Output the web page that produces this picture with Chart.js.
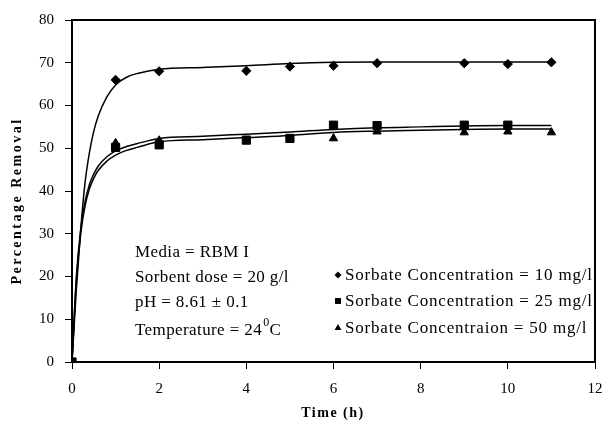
<!DOCTYPE html>
<html>
<head>
<meta charset="utf-8">
<script src="https://cdn.jsdelivr.net/npm/chart.js@4.4.0/dist/chart.umd.min.js"></script>
<style>
  html, body { margin: 0; padding: 0; background: #fff; }
  #wrap { width: 607px; height: 430px; }
</style>
</head>
<body>
<div id="wrap"><canvas id="myChart" width="607" height="430"></canvas></div>
<script>
// measured points
var labels = ['Sorbate Concentration = 10 mg/l', 'Sorbate Concentration = 25 mg/l', 'Sorbate Concentraion = 50 mg/l'];
var t10 = [0, 1, 2, 4, 5, 6, 7, 9, 10, 11];
var c10 = [0, 66, 68, 68.1, 69.1, 69.3, 69.9, 69.9, 69.7, 70.1];
var t25 = [0, 1, 2, 4, 5, 6, 7, 9, 10];
var c25 = [0, 50.2, 50.8, 51.9, 52.3, 55.4, 55.3, 55.4, 55.4];
var t50 = [0, 1, 2, 6, 7, 9, 10, 11];
var c50 = [0, 51.2, 51.8, 52.3, 53.9, 53.7, 53.9, 53.7];

// fitted curves
var tFit = [0, 0.1, 0.2, 0.3, 0.4, 0.5, 0.6, 0.8, 1, 1.25, 1.5, 2, 3, 4, 5, 6, 7, 8, 9, 10, 11];
var fit10 = [0, 17, 31, 42, 49, 54, 57.5, 62, 64.8, 66.6, 67.5, 68.5, 68.9, 69.3, 69.8, 70.1, 70.2, 70.2, 70.2, 70.2, 70.2];
var fit25 = [0, 20, 31, 37.5, 41.5, 44, 45.8, 48, 49.4, 50.4, 51.1, 52.3, 52.8, 53.3, 53.8, 54.4, 54.8, 55, 55.2, 55.3, 55.3];
var fit50 = [0, 19, 30, 36.5, 40.5, 43, 44.8, 47, 48.4, 49.5, 50.2, 51.5, 52, 52.5, 53, 53.7, 54, 54.2, 54.4, 54.5, 54.5];

var notes = ['Media = RBM I', 'Sorbent dose = 20 g/l', 'pH = 8.61 \u00b1 0.1', 'Temperature = 24'];
var xTitle = 'Time (h)';
var yTitle = 'Percentage Removal';

function pts(xs, ys) {
    return xs.map(function (x, i) { return { x: x, y: ys[i] }; });
}

var serif = '"Liberation Serif", "Times New Roman", serif';

function fitLine(data) {
    return {
        data: pts(tFit, data), showLine: true, pointRadius: 0, borderColor: '#000',
        borderWidth: 1.5, cubicInterpolationMode: 'monotone', fill: false
    };
}

var extras = {
    id: 'extras',
    afterDraw: function (chart) {
        var c = chart.ctx, a = chart.chartArea;
        c.save();
        // frame top and right
        c.strokeStyle = '#000';
        c.lineWidth = 2;
        c.beginPath();
        c.moveTo(a.left, a.top);
        c.lineTo(a.right, a.top);
        c.lineTo(a.right, a.bottom);
        c.stroke();

        c.fillStyle = '#000';
        // axis titles
        c.font = 'bold 14px ' + serif;
        c.letterSpacing = '1.5px';
        c.textAlign = 'center';
        c.textBaseline = 'middle';
        c.fillText(xTitle, 333, 413);
        c.save();
        c.translate(17, 201);
        c.rotate(-Math.PI / 2);
        c.letterSpacing = '2.5px';
        c.fillText(yTitle, 0, 0);
        c.restore();

        // notes
        c.font = '17px ' + serif;
        c.letterSpacing = '0.4px';
        c.textBaseline = 'alphabetic';
        c.textAlign = 'left';
        var ny = [257, 282, 307, 335];
        notes.forEach(function (s, i) {
            c.fillText(s, 135, ny[i]);
        });
        var w = c.measureText(notes[3]).width;
        c.font = '12px ' + serif;
        c.fillText('0', 135 + w + 1, 326);
        var w2 = c.measureText('0').width;
        c.font = '17px ' + serif;
        c.fillText('C', 135 + w + w2 + 1, 335);

        // legend
        c.letterSpacing = '0.8px';
        var ly = [280, 306, 333];
        var lr = [3.5, 4.2, 4];
        for (var i = 0; i < 3; i++) {
            var ds = chart.data.datasets[i];
            Chart.helpers.drawPoint(c, { pointStyle: ds.pointStyle, radius: lr[i], borderWidth: 0 }, 338, ly[i] - 5);
            c.fillText(ds.label, 345, ly[i]);
        }
        c.restore();
    }
};

var ctx = document.getElementById('myChart').getContext('2d');
var myChart = new Chart(ctx, {
    type: 'scatter',
    data: {
        datasets: [
            { label: labels[0], data: pts(t10, c10), pointStyle: 'rectRot', pointRadius: 4.6, backgroundColor: '#000', borderColor: '#000' },
            { label: labels[1], data: pts(t25, c25), pointStyle: 'rect', pointRadius: 5.8, backgroundColor: '#000', borderColor: '#000' },
            { label: labels[2], data: pts(t50, c50), pointStyle: 'triangle', pointRadius: 4.8, backgroundColor: '#000', borderColor: '#000' },
            fitLine(fit10),
            fitLine(fit25),
            fitLine(fit50)
        ]
    },
    options: {
        responsive: false,
        animation: false,
        layout: { padding: { left: 0, right: 0, top: 20, bottom: 0 } },
        plugins: { legend: { display: false }, tooltip: { enabled: false } },
        scales: {
            x: {
                type: 'linear', min: 0, max: 12,
                ticks: { stepSize: 2, color: '#000', padding: 11, font: { family: serif, size: 15 } },
                grid: { drawOnChartArea: false, tickLength: 7, color: '#000', lineWidth: 1 },
                border: { color: '#000', width: 2 },
                afterFit: function (s) { s.height = 68; s.paddingRight = 12; s.paddingLeft = 0; }
            },
            y: {
                min: 0, max: 80,
                ticks: { stepSize: 10, color: '#000', padding: 11, font: { family: serif, size: 15 } },
                grid: { drawOnChartArea: false, tickLength: 7, color: '#000', lineWidth: 1 },
                border: { color: '#000', width: 2 },
                afterFit: function (s) { s.width = 72; }
            }
        }
    },
    plugins: [extras]
});
</script>
</body>
</html>
